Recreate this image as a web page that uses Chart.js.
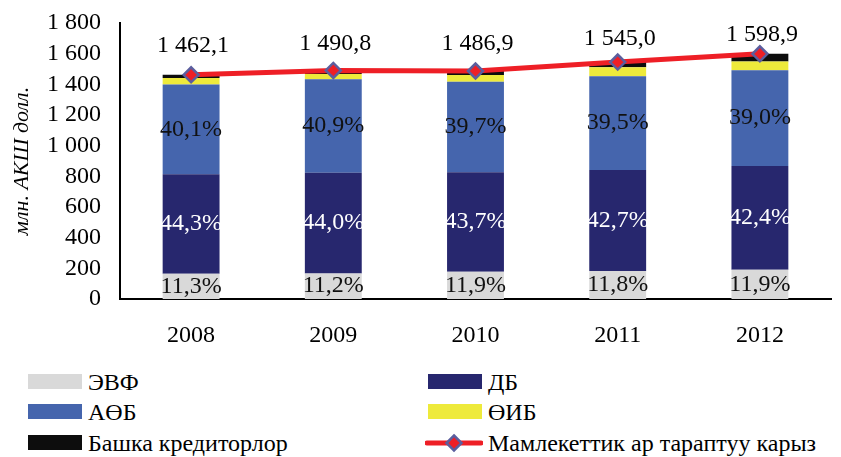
<!DOCTYPE html>
<html>
<head>
<meta charset="utf-8">
<script src="https://cdn.jsdelivr.net/npm/chart.js@4.4.1/dist/chart.umd.min.js"></script>
<style>
  body { margin: 0; background: #fff; }
  #wrap { position: relative; width: 841px; height: 457px; font-family: "Liberation Serif", "DejaVu Serif", serif; }
  #box { position: absolute; left: 0; top: 0; width: 841px; height: 360px; }
  .leg { position: absolute; height: 30px; line-height: 30px; font-size: 24px; color: #000; white-space: nowrap; }
  .leg .sw { position: absolute; left: 0; top: 7px; width: 54px; height: 15px; }
  .leg .t { position: absolute; left: 60px; top: 0; }
</style>
</head>
<body>
<div id="wrap">
  <div id="box"><canvas id="chart" width="841" height="360"></canvas></div>
</div>
<script>
'use strict';

// Жылдар
var years = ['2008', '2009', '2010', '2011', '2012'];

// Мамлекеттик тышкы карыз, млн. АКШ долл.
var totalDebt = [1462.1, 1490.8, 1486.9, 1545.0, 1598.9];

// Кредиторлор боюнча (млн. АКШ долл., сүрөттөн окулган)
var evf   = [165, 167, 177, 182, 190];
var db    = [648, 656, 650, 660, 678];
var aob   = [586, 610, 590, 610, 624];
var oib   = [42, 35, 44, 60, 57];
var other = [21, 23, 26, 33, 50];

// Үлүштөр (%)
var evfPct = ['11,3%', '11,2%', '11,9%', '11,8%', '11,9%'];
var dbPct  = ['44,3%', '44,0%', '43,7%', '42,7%', '42,4%'];
var aobPct = ['40,1%', '40,9%', '39,7%', '39,5%', '39,0%'];

var FONT = '"Liberation Serif", "DejaVu Serif", serif';
var RED = '#ee1f26';
var MARKER_BORDER = '#5b5e9e';

function fmtNum(v, dec) {
  var s = dec ? v.toFixed(dec) : String(v);
  var parts = s.split('.');
  parts[0] = parts[0].replace(/\B(?=(\d{3})+(?!\d))/g, ' ');
  return parts.join(',');
}

// Пайыздар жана жыйынтык сандар
var labelPlugin = {
  id: 'barLabels',
  afterDatasetsDraw: function (chart) {
    var ctx = chart.ctx;
    var top = chart.chartArea.top;
    ctx.save();
    ctx.font = '24px ' + FONT;
    ctx.textAlign = 'center';
    ctx.textBaseline = 'middle';
    chart.data.datasets.forEach(function (ds, di) {
      var meta = chart.getDatasetMeta(di);
      if (ds.pctLabels) {
        ctx.fillStyle = ds.pctColor;
        meta.data.forEach(function (bar, i) {
          ctx.fillText(ds.pctLabels[i], bar.x, (bar.y + bar.base) / 2);
        });
      }
      if (ds.type === 'line') {
        ctx.fillStyle = '#000';
        meta.data.forEach(function (pt, i) {
          var y = top + (pt.y - top) * 0.56 - 6;
          ctx.fillText(fmtNum(ds.data[i], 1), pt.x + 2, y);
        });
      }
    });
    ctx.restore();
  }
};

var barCommon = { stack: 'parts', order: 1, barPercentage: 0.4, categoryPercentage: 1.0, borderWidth: 0 };

function barSet(label, data, color, pct, pctColor) {
  var d = { label: label, data: data, backgroundColor: color, pctLabels: pct, pctColor: pctColor };
  for (var k in barCommon) d[k] = barCommon[k];
  return d;
}

var datasets = [
  barSet('ЭВФ', evf, '#d9d9d9', evfPct, '#111'),
  barSet('ДБ', db, '#27276e', dbPct, '#fff'),
  barSet('АӨБ', aob, '#4565ad', aobPct, '#111'),
  barSet('ӨИБ', oib, '#eeea3b', null, null),
  barSet('Башка кредиторлор', other, '#0d0d0d', null, null),
  {
    type: 'line',
    label: 'Мамлекеттик ар тараптуу карыз',
    data: totalDebt,
    stack: 'total',
    order: 0,
    borderColor: RED,
    borderWidth: 5,
    tension: 0,
    pointStyle: 'rectRot',
    pointRadius: 7.5,
    pointBackgroundColor: RED,
    pointBorderColor: MARKER_BORDER,
    pointBorderWidth: 2.5
  }
];

new Chart(document.getElementById('chart'), {
  type: 'bar',
  data: { labels: years, datasets: datasets },
  options: {
    responsive: false,
    animation: false,
    devicePixelRatio: 1,
    layout: { padding: { top: 23, left: 0, right: 0, bottom: 0 } },
    plugins: { legend: { display: false }, tooltip: { enabled: false } },
    scales: {
      x: {
        stacked: true,
        grid: { display: false, drawTicks: false },
        border: { display: true, color: '#000', width: 2 },
        ticks: { color: '#000', font: { family: FONT, size: 24 }, padding: 22 },
        afterFit: function (s) {
          s.height = 61;
          s.paddingLeft = 0;
          s.paddingRight = 0;
        }
      },
      y: {
        stacked: true,
        min: 0,
        max: 1800,
        grid: { display: false, drawTicks: false },
        border: { display: true, color: '#000', width: 2 },
        ticks: {
          stepSize: 200,
          autoSkip: false,
          color: '#000',
          padding: 19,
          font: { family: FONT, size: 24 },
          callback: function (v) { return fmtNum(v); }
        },
        title: {
          display: true,
          text: 'млн. АКШ долл.',
          color: '#000',
          font: { family: FONT, size: 22, style: 'italic' },
          padding: { top: 9, bottom: 0 }
        },
        afterFit: function (s) {
          s.width = 120;
          s.paddingTop = 0;
          s.paddingBottom = 0;
        }
      }
    }
  },
  plugins: [labelPlugin]
});

// Легенда (эки мамыча)
var legendNames  = ['ЭВФ', 'ДБ', 'АӨБ', 'ӨИБ', 'Башка кредиторлор', 'Мамлекеттик ар тараптуу карыз'];
var legendColors = ['#d9d9d9', '#27276e', '#4565ad', '#eeea3b', '#0d0d0d', null];
var legendColX = [28, 428];
var legendRowY = [367, 397, 428];

var wrap = document.getElementById('wrap');
for (var i = 0; i < legendNames.length; i++) {
  var item = document.createElement('div');
  item.className = 'leg';
  item.style.left = legendColX[i % 2] + 'px';
  item.style.top = legendRowY[Math.floor(i / 2)] + 'px';
  if (legendColors[i]) {
    item.innerHTML = '<div class="sw" style="background:' + legendColors[i] + '"></div>';
  } else {
    item.innerHTML = '<svg width="58" height="30" style="position:absolute;left:-3px;top:0">' +
      '<line x1="2" y1="15" x2="56" y2="15" stroke="' + RED + '" stroke-width="5" stroke-linecap="round"/>' +
      '<polygon points="29,7.5 36.5,15 29,22.5 21.5,15" fill="' + RED + '" stroke="' + MARKER_BORDER + '" stroke-width="2.5"/></svg>';
  }
  var t = document.createElement('span');
  t.className = 't';
  t.textContent = legendNames[i];
  item.appendChild(t);
  wrap.appendChild(item);
}
</script>
</body>
</html>
